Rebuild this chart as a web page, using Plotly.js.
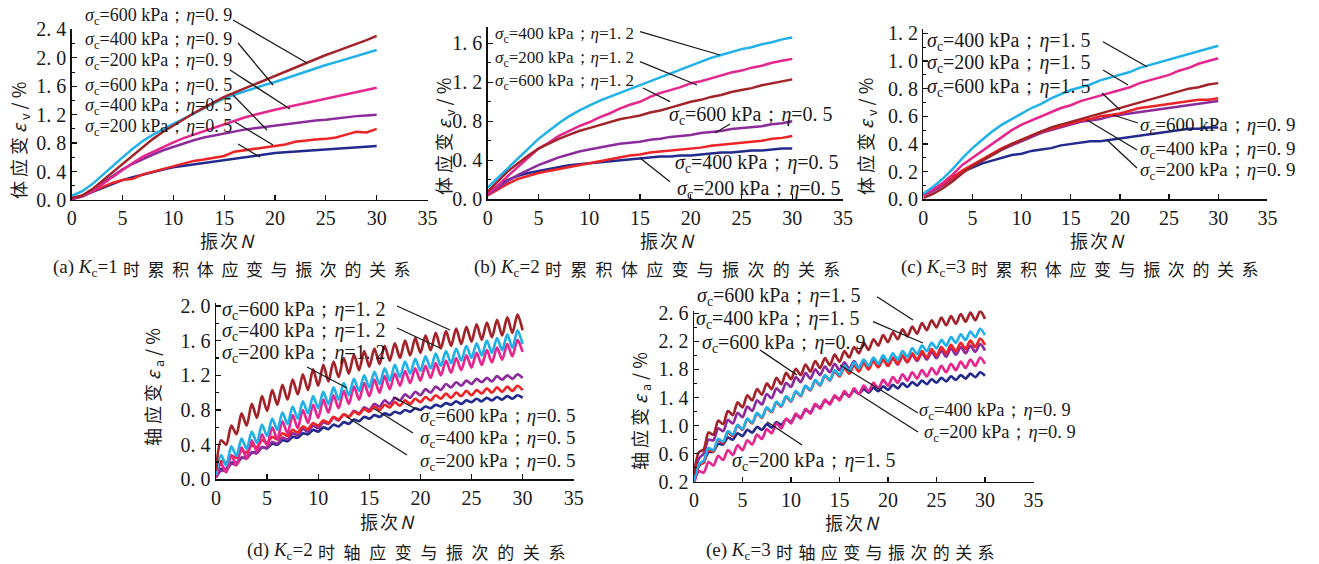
<!DOCTYPE html>
<html><head><meta charset="utf-8">
<script src="https://cdn.plot.ly/plotly-3.0.1.min.js"></script>
<style>html,body{margin:0;padding:0;background:#fff}</style>
</head><body><div id="chart" style="width:1319px;height:564px"></div>
<script>
const W = 1319, H = 564;
const N = [0,1,2,3,4,5,6,7,8,9,10,11,12,13,14,15,16,17,18,19,20,21,22,23,24,25,26,27,28,29,30];

// (a) Kc=1 volumetric strain
const a_brown  = [0.03,0.06,0.15,0.27,0.39,0.51,0.63,0.75,0.86,0.96,1.05,1.14,1.22,1.30,1.38,1.45,1.51,1.57,1.63,1.69,1.74,1.80,1.86,1.93,1.98,2.04,2.09,2.14,2.20,2.25,2.31];
const a_cyan   = [0.06,0.12,0.22,0.35,0.48,0.60,0.72,0.83,0.92,1.00,1.07,1.14,1.22,1.29,1.36,1.43,1.48,1.53,1.57,1.62,1.66,1.71,1.76,1.80,1.85,1.90,1.94,1.98,2.03,2.07,2.11];
const a_pink   = [0.02,0.05,0.12,0.22,0.33,0.43,0.52,0.61,0.68,0.75,0.81,0.87,0.92,0.97,1.02,1.07,1.12,1.16,1.20,1.24,1.27,1.30,1.33,1.36,1.39,1.42,1.45,1.48,1.51,1.55,1.58];
const a_purple = [0.02,0.06,0.14,0.24,0.34,0.43,0.51,0.58,0.64,0.70,0.75,0.80,0.84,0.88,0.91,0.94,0.97,0.99,1.01,1.03,1.05,1.07,1.09,1.11,1.12,1.13,1.15,1.16,1.18,1.19,1.20];
const a_red    = [0.02,0.06,0.12,0.18,0.24,0.28,0.30,0.36,0.40,0.43,0.47,0.52,0.55,0.57,0.60,0.62,0.68,0.70,0.72,0.75,0.77,0.78,0.82,0.84,0.85,0.86,0.88,0.92,0.96,0.95,1.00];
const a_blue   = [0.01,0.05,0.11,0.17,0.23,0.28,0.32,0.36,0.40,0.43,0.46,0.48,0.51,0.53,0.55,0.57,0.59,0.61,0.63,0.64,0.66,0.67,0.68,0.69,0.70,0.71,0.72,0.73,0.74,0.75,0.76];

// (b) Kc=2 volumetric strain
const b_cyan   = [0.12,0.22,0.32,0.42,0.53,0.62,0.70,0.78,0.85,0.91,0.96,1.01,1.05,1.09,1.13,1.17,1.21,1.25,1.29,1.33,1.37,1.41,1.45,1.48,1.51,1.54,1.56,1.59,1.61,1.64,1.66];
const b_pink   = [0.06,0.14,0.24,0.33,0.43,0.52,0.58,0.65,0.70,0.75,0.79,0.84,0.88,0.93,0.97,1.00,1.05,1.09,1.12,1.15,1.19,1.21,1.24,1.27,1.30,1.32,1.35,1.37,1.40,1.42,1.44];
const b_brown  = [0.08,0.18,0.29,0.37,0.45,0.52,0.57,0.62,0.66,0.70,0.73,0.76,0.79,0.82,0.84,0.86,0.89,0.91,0.94,0.97,1.00,1.02,1.05,1.07,1.10,1.12,1.14,1.17,1.19,1.21,1.23];
const b_purple = [0.05,0.12,0.19,0.25,0.30,0.35,0.39,0.43,0.46,0.49,0.51,0.53,0.55,0.57,0.58,0.59,0.61,0.62,0.64,0.65,0.66,0.68,0.69,0.70,0.72,0.73,0.74,0.75,0.77,0.78,0.80];
const b_red    = [0.04,0.10,0.16,0.21,0.24,0.27,0.29,0.31,0.33,0.35,0.37,0.39,0.41,0.43,0.45,0.46,0.48,0.49,0.50,0.51,0.52,0.53,0.55,0.56,0.57,0.58,0.59,0.60,0.62,0.63,0.65];
const b_blue   = [0.06,0.14,0.20,0.24,0.27,0.29,0.31,0.33,0.35,0.36,0.37,0.38,0.39,0.40,0.41,0.42,0.43,0.44,0.44,0.45,0.45,0.46,0.47,0.48,0.48,0.49,0.50,0.50,0.51,0.52,0.52];

// (c) Kc=3 volumetric strain
const c_cyan   = [0.04,0.09,0.15,0.22,0.30,0.37,0.43,0.49,0.54,0.58,0.62,0.66,0.69,0.73,0.76,0.79,0.81,0.83,0.86,0.88,0.90,0.92,0.95,0.97,0.99,1.01,1.03,1.05,1.07,1.09,1.11];
const c_pink   = [0.03,0.07,0.12,0.18,0.25,0.30,0.35,0.40,0.45,0.50,0.54,0.57,0.60,0.63,0.66,0.68,0.71,0.73,0.75,0.77,0.79,0.81,0.84,0.86,0.88,0.90,0.93,0.95,0.98,1.00,1.02];
const c_brown  = [0.01,0.04,0.08,0.13,0.19,0.24,0.28,0.32,0.36,0.40,0.43,0.46,0.49,0.52,0.54,0.56,0.58,0.60,0.62,0.64,0.66,0.68,0.70,0.72,0.74,0.76,0.78,0.80,0.81,0.83,0.84];
const c_red    = [0.04,0.07,0.11,0.16,0.21,0.25,0.29,0.33,0.37,0.40,0.43,0.46,0.49,0.51,0.53,0.55,0.57,0.58,0.60,0.61,0.62,0.64,0.66,0.67,0.68,0.69,0.70,0.71,0.72,0.72,0.73];
const c_purple = [0.03,0.06,0.10,0.15,0.20,0.24,0.28,0.32,0.36,0.39,0.42,0.45,0.48,0.50,0.52,0.54,0.56,0.57,0.58,0.60,0.61,0.62,0.63,0.64,0.65,0.66,0.67,0.68,0.69,0.70,0.71];
const c_blue   = [0.03,0.07,0.11,0.16,0.20,0.23,0.26,0.28,0.30,0.32,0.33,0.35,0.36,0.37,0.39,0.40,0.41,0.42,0.42,0.43,0.44,0.45,0.46,0.47,0.48,0.49,0.50,0.51,0.51,0.52,0.52];

// (d) Kc=2 axial strain: troughs at each cycle N, peaks at mid-cycle
const d_brown_lo  = [0.10,0.40,0.52,0.62,0.71,0.79,0.86,0.92,0.98,1.03,1.08,1.13,1.18,1.22,1.26,1.30,1.33,1.37,1.40,1.43,1.46,1.49,1.51,1.54,1.56,1.59,1.61,1.64,1.66,1.69,1.72];
const d_brown_hi  = [0.45,0.62,0.76,0.87,0.96,1.03,1.09,1.15,1.21,1.27,1.32,1.36,1.40,1.44,1.48,1.51,1.54,1.57,1.60,1.63,1.66,1.69,1.71,1.74,1.76,1.79,1.81,1.84,1.87,1.90];
const d_cyan_lo   = [0.05,0.16,0.27,0.35,0.42,0.50,0.57,0.64,0.70,0.76,0.82,0.87,0.92,0.97,1.02,1.06,1.10,1.14,1.18,1.22,1.25,1.28,1.31,1.34,1.37,1.40,1.43,1.46,1.49,1.52,1.56];
const d_cyan_hi   = [0.28,0.38,0.47,0.55,0.63,0.70,0.77,0.84,0.90,0.96,1.01,1.06,1.11,1.16,1.20,1.24,1.28,1.32,1.36,1.39,1.42,1.45,1.48,1.51,1.54,1.57,1.60,1.63,1.67,1.72];
const d_pink_lo   = [0.02,0.08,0.16,0.24,0.32,0.39,0.46,0.53,0.59,0.65,0.71,0.77,0.82,0.87,0.92,0.96,1.00,1.04,1.08,1.11,1.14,1.17,1.20,1.23,1.26,1.29,1.32,1.35,1.38,1.42,1.47];
const d_pink_hi   = [0.18,0.28,0.37,0.45,0.52,0.60,0.67,0.74,0.80,0.86,0.92,0.97,1.02,1.07,1.11,1.15,1.19,1.22,1.25,1.28,1.31,1.34,1.37,1.40,1.43,1.46,1.49,1.52,1.56,1.61];
const d_purple_lo = [0.02,0.10,0.17,0.24,0.30,0.36,0.41,0.46,0.51,0.55,0.59,0.64,0.68,0.72,0.76,0.80,0.84,0.87,0.91,0.94,0.97,1.00,1.03,1.06,1.08,1.10,1.12,1.13,1.15,1.16,1.17];
const d_purple_hi = [0.10,0.18,0.25,0.31,0.37,0.43,0.48,0.53,0.58,0.62,0.66,0.71,0.75,0.79,0.83,0.87,0.91,0.94,0.98,1.01,1.04,1.07,1.10,1.12,1.14,1.16,1.17,1.19,1.20,1.21];
const d_red_lo    = [0.03,0.19,0.25,0.31,0.37,0.42,0.46,0.50,0.54,0.58,0.62,0.65,0.69,0.72,0.75,0.78,0.80,0.83,0.85,0.87,0.89,0.91,0.93,0.94,0.96,0.97,0.99,1.00,1.01,1.02,1.03];
const d_red_hi    = [0.21,0.27,0.33,0.39,0.45,0.49,0.53,0.57,0.61,0.65,0.68,0.72,0.75,0.78,0.81,0.84,0.86,0.89,0.91,0.93,0.95,0.97,0.99,1.00,1.02,1.03,1.05,1.06,1.07,1.08];
const d_blue_lo   = [0.02,0.12,0.19,0.25,0.31,0.36,0.40,0.44,0.48,0.52,0.55,0.58,0.61,0.64,0.67,0.70,0.72,0.74,0.76,0.78,0.80,0.82,0.84,0.86,0.87,0.89,0.90,0.91,0.92,0.93,0.94];
const d_blue_hi   = [0.12,0.19,0.25,0.31,0.37,0.41,0.45,0.49,0.53,0.57,0.60,0.63,0.66,0.69,0.72,0.74,0.76,0.78,0.80,0.82,0.84,0.86,0.88,0.90,0.91,0.93,0.94,0.95,0.96,0.97];

// (e) Kc=3 axial strain
const e_brown_lo  = [0.30,0.66,0.87,1.02,1.15,1.26,1.36,1.44,1.52,1.59,1.66,1.72,1.77,1.82,1.86,1.91,1.97,2.03,2.08,2.14,2.19,2.23,2.27,2.31,2.36,2.40,2.43,2.45,2.48,2.50,2.52];
const e_brown_hi  = [0.62,0.90,1.07,1.21,1.33,1.43,1.52,1.60,1.68,1.75,1.81,1.87,1.92,1.96,2.01,2.06,2.12,2.18,2.23,2.29,2.33,2.37,2.41,2.46,2.50,2.54,2.56,2.59,2.61,2.63];
const e_cyan_lo   = [0.20,0.50,0.65,0.77,0.87,0.95,1.04,1.12,1.20,1.28,1.35,1.43,1.51,1.58,1.65,1.72,1.78,1.82,1.85,1.88,1.91,1.94,1.98,2.02,2.06,2.10,2.14,2.18,2.22,2.26,2.29];
const e_cyan_hi   = [0.45,0.68,0.81,0.92,1.01,1.10,1.18,1.26,1.34,1.42,1.49,1.57,1.65,1.72,1.79,1.85,1.90,1.94,1.97,2.00,2.03,2.06,2.10,2.14,2.18,2.22,2.26,2.30,2.34,2.38];
const e_red_lo    = [0.20,0.47,0.63,0.75,0.85,0.94,1.03,1.11,1.19,1.27,1.34,1.42,1.50,1.57,1.64,1.70,1.74,1.77,1.80,1.83,1.85,1.88,1.91,1.94,1.97,2.00,2.03,2.06,2.09,2.12,2.15];
const e_red_hi    = [0.44,0.65,0.79,0.90,1.00,1.09,1.17,1.25,1.33,1.41,1.48,1.56,1.64,1.71,1.77,1.82,1.86,1.89,1.92,1.94,1.97,2.00,2.03,2.06,2.09,2.12,2.15,2.18,2.21,2.24];
const e_purple_lo = [0.25,0.60,0.79,0.92,1.03,1.12,1.21,1.30,1.39,1.47,1.55,1.62,1.67,1.72,1.76,1.79,1.81,1.82,1.83,1.84,1.85,1.87,1.90,1.92,1.94,1.96,1.98,2.01,2.03,2.05,2.07];
const e_purple_hi = [0.53,0.80,0.96,1.08,1.18,1.27,1.36,1.45,1.53,1.61,1.69,1.75,1.80,1.84,1.88,1.90,1.92,1.93,1.94,1.95,1.96,1.99,2.01,2.03,2.05,2.07,2.10,2.12,2.14,2.16];
const e_pink_lo   = [0.17,0.33,0.43,0.51,0.58,0.65,0.73,0.81,0.89,0.96,1.03,1.10,1.17,1.24,1.30,1.36,1.41,1.45,1.49,1.53,1.57,1.61,1.64,1.67,1.70,1.73,1.76,1.79,1.82,1.85,1.88];
const e_pink_hi   = [0.35,0.48,0.57,0.65,0.72,0.79,0.87,0.95,1.03,1.10,1.17,1.24,1.31,1.37,1.43,1.49,1.53,1.57,1.61,1.65,1.69,1.73,1.76,1.79,1.82,1.85,1.88,1.91,1.94,1.97];
const e_blue_lo   = [0.22,0.49,0.63,0.73,0.80,0.85,0.90,0.94,0.97,1.01,1.05,1.12,1.19,1.26,1.32,1.38,1.42,1.45,1.47,1.49,1.51,1.53,1.55,1.57,1.59,1.61,1.63,1.65,1.67,1.69,1.71];
const e_blue_hi   = [0.42,0.62,0.74,0.83,0.89,0.94,0.98,1.02,1.05,1.09,1.15,1.22,1.29,1.35,1.41,1.46,1.50,1.52,1.54,1.56,1.58,1.60,1.62,1.64,1.66,1.68,1.70,1.72,1.74,1.76];

// tick labels
const xTicks = [0,5,10,15,20,25,30,35];
const xTickText = ['0','5','10','15','20','25','30','35'];
const a_yTicks = [0,0.4,0.8,1.2,1.6,2.0,2.4];
const a_yText  = ['0. 0','0. 4','0. 8','1. 2','1. 6','2. 0','2. 4'];
const b_yTicks = [0,0.4,0.8,1.2,1.6];
const b_yText  = ['0. 0','0. 4','0. 8','1. 2','1. 6'];
const c_yTicks = [0,0.2,0.4,0.6,0.8,1.0,1.2];
const c_yText  = ['0. 0','0. 2','0. 4','0. 6','0. 8','1. 0','1. 2'];
const d_yTicks = [0,0.4,0.8,1.2,1.6,2.0];
const d_yText  = ['0. 0','0. 4','0. 8','1. 2','1. 6','2. 0'];
const e_yTicks = [0.2,0.6,1.0,1.4,1.8,2.2,2.6];
const e_yText  = ['0. 2','0. 6','1. 0','1. 4','1. 8','2. 2','2. 6'];

// texts
const capPrefix = ['(a) <i>K</i><sub>c</sub>=1','(b) <i>K</i><sub>c</sub>=2','(c) <i>K</i><sub>c</sub>=3','(d) <i>K</i><sub>c</sub>=2','(e) <i>K</i><sub>c</sub>=3'];
const capBody = ['时累积体应变与振次的关系','时累积体应变与振次的关系','时累积体应变与振次的关系','时轴应变与振次的关系','时轴应变与振次的关系'];
const xTitle = '振次<i>N</i>';
const yTitleV = '体应变<i>ε</i><sub>v</sub>/%';
const yTitleA = '轴应变<i>ε</i><sub>a</sub>/%';
function lab(s, e){ return '<i>σ</i><sub>c</sub>=' + s + ' kPa；<i>η</i>=' + e; }

const COL = {brown:'#a3232a', cyan:'#1fb1e8', pink:'#e6258e', purple:'#8c2b9c', red:'#ee2326', blue:'#232a8e'};
const SERIF = 'Liberation Serif, Times New Roman, serif';
const CJK = 'Noto Sans CJK SC, sans-serif';

const frames = [
  {x0:71.7,  x1:427.5,  yb:200,   yt:29.4,  yr:[0,2.4],   yt_v:a_yTicks, yt_t:a_yText, minor:0.2},
  {x0:487.7, x1:843,    yb:199.3, yt:26.7,  yr:[0,1.77],  yt_v:b_yTicks, yt_t:b_yText, minor:0.2},
  {x0:923.3, x1:1267.4, yb:199.3, yt:29.2,  yr:[0,1.23],  yt_v:c_yTicks, yt_t:c_yText, minor:0.1},
  {x0:216,   x1:573.7,  yb:479.3, yt:303,   yr:[0,2.035], yt_v:d_yTicks, yt_t:d_yText, minor:0.2},
  {x0:694,   x1:1033.5, yb:481.7, yt:310.5, yr:[0.2,2.64],yt_v:e_yTicks, yt_t:e_yText, minor:0.2}
];

const traces = [];
function smooth(k, y, color){
  const s = k===0 ? '' : String(k+1);
  traces.push({x:N, y:y, type:'scatter', mode:'lines', xaxis:'x'+s, yaxis:'y'+s,
    line:{color:color, width:2.5}, hoverinfo:'skip'});
}
function cyc(k, lo, hi, color){
  const s = String(k+1);
  const xs = [], ys = [];
  for (let i=0;i<lo.length;i++){
    xs.push(N[i]); ys.push(lo[i]);
    if (i<hi.length){ xs.push(N[i]+0.5); ys.push(hi[i]); }
  }
  traces.push({x:xs, y:ys, type:'scatter', mode:'lines', xaxis:'x'+s, yaxis:'y'+s,
    line:{color:color, width:2.7, shape:'spline', smoothing:0.8}, hoverinfo:'skip'});
}
smooth(0,a_blue,COL.blue); smooth(0,a_red,COL.red); smooth(0,a_purple,COL.purple);
smooth(0,a_pink,COL.pink); smooth(0,a_cyan,COL.cyan); smooth(0,a_brown,COL.brown);
smooth(1,b_blue,COL.blue); smooth(1,b_red,COL.red); smooth(1,b_purple,COL.purple);
smooth(1,b_pink,COL.pink); smooth(1,b_brown,COL.brown); smooth(1,b_cyan,COL.cyan);
smooth(2,c_blue,COL.blue); smooth(2,c_purple,COL.purple); smooth(2,c_red,COL.red);
smooth(2,c_brown,COL.brown); smooth(2,c_pink,COL.pink); smooth(2,c_cyan,COL.cyan);
cyc(3,d_blue_lo,d_blue_hi,COL.blue); cyc(3,d_purple_lo,d_purple_hi,COL.purple); cyc(3,d_red_lo,d_red_hi,COL.red);
cyc(3,d_pink_lo,d_pink_hi,COL.pink); cyc(3,d_cyan_lo,d_cyan_hi,COL.cyan); cyc(3,d_brown_lo,d_brown_hi,COL.brown);
cyc(4,e_blue_lo,e_blue_hi,COL.blue); cyc(4,e_pink_lo,e_pink_hi,COL.pink); cyc(4,e_purple_lo,e_purple_hi,COL.purple);
cyc(4,e_red_lo,e_red_hi,COL.red); cyc(4,e_cyan_lo,e_cyan_hi,COL.cyan); cyc(4,e_brown_lo,e_brown_hi,COL.brown);

const layout = {width:W, height:H, margin:{l:0,r:0,t:0,b:0}, paper_bgcolor:'#fff', plot_bgcolor:'rgba(0,0,0,0)',
  showlegend:false, annotations:[], shapes:[]};

frames.forEach((f,k)=>{
  const s = k===0 ? '' : String(k+1);
  const common = {showline:true, linecolor:'#111', linewidth:1.4, ticks:'inside', ticklen:5, tickwidth:1.3,
    tickcolor:'#111', showgrid:false, zeroline:false, fixedrange:true, tickmode:'array',
    tickfont:{family:SERIF, size:20, color:'#1a1a1a'}};
  layout['xaxis'+s] = Object.assign({}, common, {domain:[f.x0/W, f.x1/W], range:[0,35], anchor:'y'+s,
    tickvals:xTicks, ticktext:xTickText});
  layout['yaxis'+s] = Object.assign({}, common, {domain:[1-f.yb/H, 1-f.yt/H], range:f.yr, anchor:'x'+s,
    tickvals:f.yt_v, ticktext:f.yt_t,
    minor:{ticks:'inside', ticklen:3, tickwidth:1.1, tickcolor:'#111', tick0:0, dtick:f.minor, showgrid:false}});
});

function P(x){ return x/W; } function Q(y){ return 1-y/H; }
const A = layout.annotations;
// caption bodies (indices 0-4): left aligned at boundary, letter-spaced
const capSplit = [[121,268],[543,268],[969,268],[316,551],[774,551]];
capBody.forEach((t,i)=>A.push({xref:'paper',yref:'paper',x:P(capSplit[i][0]),y:Q(capSplit[i][1]),xanchor:'left',yanchor:'middle',
  align:'left', text:t, showarrow:false, font:{family:CJK, size:17, color:'#1a1a1a'}}));
// x titles (5-9)
const xtPos = [[228,240],[668,240],[1098,240],[388,521],[853,522]];
xtPos.forEach(p=>A.push({xref:'paper',yref:'paper',x:P(p[0]),y:Q(p[1]),xanchor:'center',yanchor:'middle',
  text:xTitle, showarrow:false, font:{family:CJK, size:18, color:'#1a1a1a'}}));
// y titles (10-14)
const ytPos = [[19,139,yTitleV],[444,135,yTitleV],[866,135,yTitleV],[153,385,yTitleA],[640,409,yTitleA]];
ytPos.forEach(p=>A.push({xref:'paper',yref:'paper',x:P(p[0]),y:Q(p[1]),xanchor:'center',yanchor:'middle',
  text:p[2], textangle:-90, showarrow:false, font:{family:CJK, size:18, color:'#1a1a1a'}}));
// caption prefixes (15-19)
capPrefix.forEach((t,i)=>A.push({xref:'paper',yref:'paper',x:P(capSplit[i][0]-1),y:Q(capSplit[i][1]),xanchor:'right',yanchor:'middle',
  text:t, showarrow:false, font:{family:SERIF, size:19, color:'#1a1a1a'}}));

// series labels [text, left x, y, size]
const labels = [
  [lab('600','0. 9'),83,16.7,18],[lab('400','0. 9'),83,40.7,18],[lab('200','0. 9'),83,61,18],
  [lab('600','0. 5'),83,86,18],[lab('400','0. 5'),83,106.7,18],[lab('200','0. 5'),83,127.7,18],
  [lab('400','1. 2'),493,35,17],[lab('200','1. 2'),493,59.3,17],[lab('600','1. 2'),493,81.7,17],
  [lab('600','0. 5'),667,115,20],[lab('400','0. 5'),673,163,20],[lab('200','0. 5'),675,189,20],
  [lab('400','1. 5'),925,41.7,20],[lab('200','1. 5'),925,63.3,20],[lab('600','1. 5'),925,87.3,20],
  [lab('600','0. 9'),1138,126,19],[lab('400','0. 9'),1138,150,19],[lab('200','0. 9'),1138,170.7,19],
  [lab('600','1. 2'),220,310,20],[lab('400','1. 2'),220,331.7,20],[lab('200','1. 2'),220,353.3,20],
  [lab('600','0. 5'),418,416.7,19],[lab('400','0. 5'),418,439.3,19],[lab('200','0. 5'),418,461.7,19],
  [lab('600','1. 5'),695,296.7,20],[lab('400','1. 5'),694,319.3,20],[lab('600','0. 9'),700,343.3,20],
  [lab('400','0. 9'),917,411.7,18.5],[lab('200','0. 9'),922,433.3,18.5],[lab('200','1. 5'),730,461.7,20]
];
labels.forEach(l=>A.push({xref:'paper',yref:'paper',x:P(l[1]),y:Q(l[2]),xanchor:'left',yanchor:'middle',
  text:l[0], showarrow:false, font:{family:SERIF, size:l[3], color:'#1a1a1a'}}));

// leader lines [x0,y0,x1,y1] in pixels
const leaders = [
  [233,20,307,63],[238,43,273,85],[230,70,290,109],[233,95,267,130],[235,122,273,145],[238,144,260,157],
  [640,31.7,720,55],[640,61.7,697,85],[643,88,670,101.7],[730,124,715,133],[670,181.7,640,158],
  [1103,41.7,1147,66.7],[1103,70,1128,85],[1102,93,1120,110],[1138,123,1113,115],[1137,150,1087,120],[1137,168,1107,140],
  [397,306,450,330],[397,328,440,348],[307,367,347,388],[418,410,393,397],[413,433,373,408],[407,455,347,417],
  [877,296.7,913,320],[873,321.7,923,343],[760,350,797,375],[918,413,840,365],[918,432,860,395],[802,445,767,421.7]
];
leaders.forEach(s=>layout.shapes.push({type:'line', xref:'paper', yref:'paper', x0:P(s[0]), y0:Q(s[1]), x1:P(s[2]), y1:Q(s[3]),
  line:{color:'#1a1a1a', width:1.3}}));

// letter spacing for CJK caption bodies / titles
const spacing = {0:7.6,1:8.3,2:7.6,3:8.6,4:5.4,5:2,6:2,7:2,8:2,9:2,10:4,11:4,12:4,13:4,14:4};
let css = '';
Object.keys(spacing).forEach(i=>{ css += 'g.annotation[data-index="'+i+'"] text{letter-spacing:'+spacing[i]+'px}\n'; });
const st = document.createElement('style'); st.textContent = css; document.head.appendChild(st);

Plotly.newPlot('chart', traces, layout, {staticPlot:true, displayModeBar:false});
</script></body></html>
